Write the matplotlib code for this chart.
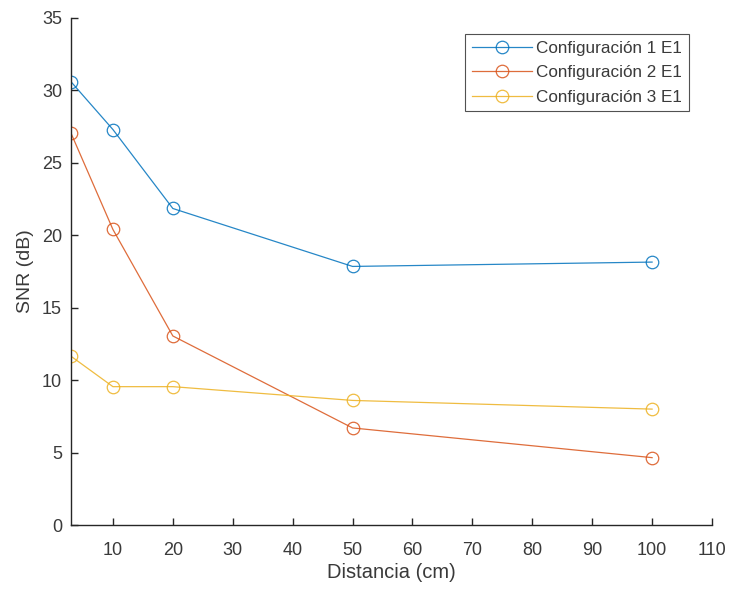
import matplotlib
matplotlib.use("Agg")
import matplotlib.pyplot as plt

# Distance (cm) and SNR (dB) for each configuration
distancia = [3, 10, 20, 50, 100]
snr_conf1 = [30.6, 27.3, 21.85, 17.85, 18.15]
snr_conf2 = [27.05, 20.4, 13.05, 6.7, 4.65]
snr_conf3 = [11.65, 9.55, 9.55, 8.6, 8.0]
etiquetas = ["Configuración 1 E1", "Configuración 2 E1", "Configuración 3 E1"]
xticks = [10, 20, 30, 40, 50, 60, 70, 80, 90, 100, 110]
yticks = [0, 5, 10, 15, 20, 25, 30, 35]

plt.rcParams['font.family'] = ['Liberation Sans', 'DejaVu Sans']
axis_color = '#262626'
text_color = '#3a3a3a'

fig = plt.figure(figsize=(7.29, 5.90), dpi=100)
ax = fig.add_axes([71 / 729, 1 - 525 / 590, (712 - 71) / 729, (525 - 18) / 590])

colores = ['#0072BD', '#D95319', '#EDB120']
for serie, color, etiqueta in zip([snr_conf1, snr_conf2, snr_conf3], colores, etiquetas):
    ax.plot(distancia, serie, color=color, linewidth=0.9, marker='o',
            markersize=9, markerfacecolor='none', markeredgewidth=0.9,
            label=etiqueta, alpha=0.85)

ax.set_xlim(3, 110)
ax.set_ylim(0, 35)
ax.set_xticks(xticks)
ax.set_yticks(yticks)

for side in ['top', 'right']:
    ax.spines[side].set_visible(False)
for side in ['left', 'bottom']:
    ax.spines[side].set_color(axis_color)
    ax.spines[side].set_linewidth(1.0)

ax.tick_params(direction='in', length=5, width=1.0, colors=axis_color,
               labelsize=13, labelcolor=text_color)
ax.tick_params(axis='x', pad=12)
ax.tick_params(axis='y', pad=6.5)

ax.set_xlabel('Distancia (cm)', fontsize=14.5, color=text_color, labelpad=3)
ax.set_ylabel('SNR (dB)', fontsize=14, color=text_color, labelpad=6)

leg = ax.legend(loc='upper right', bbox_to_anchor=((689 - 71) / 641, 1 - 16 / 507),
                fontsize=12.3, frameon=True, fancybox=False, handlelength=3.5,
                borderpad=0.4, labelspacing=0.55, handletextpad=0.25,
                borderaxespad=0)
leg.get_frame().set_edgecolor(axis_color)
leg.get_frame().set_linewidth(0.8)
for t in leg.get_texts():
    t.set_color(text_color)

fig.savefig('out.png', dpi=100)
